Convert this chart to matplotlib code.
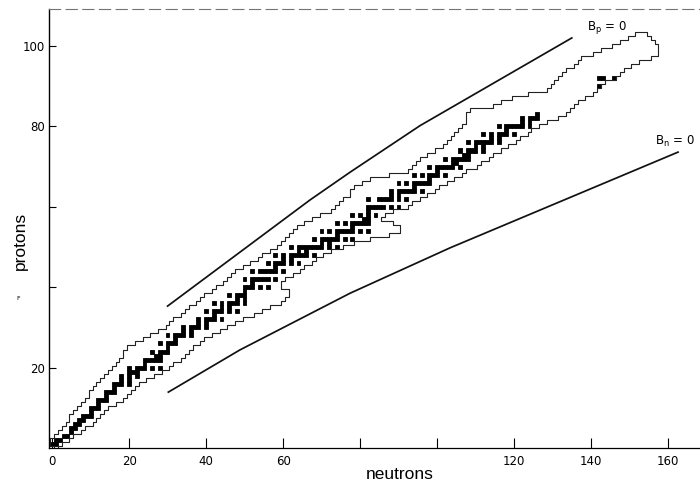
import matplotlib.pyplot as plt
from matplotlib.patches import Rectangle
from matplotlib.collections import PatchCollection

# stable (and very long-lived) mass numbers, one list per element Z = 1 .. 83
stable_A = [
    [1, 2], [3, 4], [6, 7], [9], [10, 11], [12, 13], [14, 15], [16, 17, 18], [19], [20, 21, 22],
    [23], [24, 25, 26], [27], [28, 29, 30], [31], [32, 33, 34, 36], [35, 37], [36, 38, 40], [39, 40, 41], [40, 42, 43, 44, 46, 48],
    [45], [46, 47, 48, 49, 50], [50, 51], [50, 52, 53, 54], [55], [54, 56, 57, 58], [59], [58, 60, 61, 62, 64], [63, 65], [64, 66, 67, 68, 70],
    [69, 71], [70, 72, 73, 74, 76], [75], [74, 76, 77, 78, 80, 82], [79, 81], [78, 80, 82, 83, 84, 86], [85, 87], [84, 86, 87, 88], [89], [90, 91, 92, 94, 96],
    [93], [92, 94, 95, 96, 97, 98, 100], [], [96, 98, 99, 100, 101, 102, 104], [103], [102, 104, 105, 106, 108, 110], [107, 109], [106, 108, 110, 111, 112, 113, 114, 116], [113, 115], [112, 114, 115, 116, 117, 118, 119, 120, 122, 124],
    [121, 123], [120, 122, 123, 124, 125, 126, 128, 130], [127], [124, 126, 128, 129, 130, 131, 132, 134, 136], [133], [130, 132, 134, 135, 136, 137, 138], [138, 139], [136, 138, 140, 142], [141], [142, 143, 144, 145, 146, 148, 150],
    [], [144, 147, 148, 149, 150, 152, 154], [151, 153], [152, 154, 155, 156, 157, 158, 160], [159], [156, 158, 160, 161, 162, 163, 164], [165], [162, 164, 166, 167, 168, 170], [169], [168, 170, 171, 172, 173, 174, 176],
    [175, 176], [174, 176, 177, 178, 179, 180], [180, 181], [180, 182, 183, 184, 186], [185, 187], [184, 186, 187, 188, 189, 190, 192], [191, 193], [190, 192, 194, 195, 196, 198], [197], [196, 198, 199, 200, 201, 202, 204],
    [203, 205], [204, 206, 207, 208], [209],
]

# thorium and uranium
heavy_Z = [90, 92, 92, 92]
heavy_A = [232, 234, 235, 238]

# edges of the region of known nuclides, one value per Z = 0 .. 103
z_rows = list(range(104))
n_low = [
    1,
    0, 0, 1, 2, 3, 4, 5, 5, 6, 7,
    8, 9, 10, 10, 11, 12, 13, 14, 15, 16,
    17, 18, 19, 19, 20, 22, 24, 26, 28, 30,
    31, 32, 34, 35, 36, 38, 39, 40, 42, 43,
    45, 46, 47, 48, 50, 52, 54, 55, 57, 59,
    60, 61, 62, 63, 64, 66, 68, 70, 73, 74,
    75, 76, 78, 78, 79, 81, 83, 88, 93, 94,
    95, 96, 98, 100, 102, 103, 104, 105, 106, 107,
    108, 108, 108, 109, 115, 117, 120, 124, 129, 130,
    131, 132, 133, 134, 136, 137, 138, 141, 143, 146,
    148, 150, 152,
]
n_high = [
    1,
    2, 4, 5, 7, 8, 10, 11, 12, 13, 14,
    16, 18, 19, 20, 21, 22, 24, 26, 28, 30,
    31, 33, 34, 35, 36, 38, 39, 41, 43, 45,
    47, 49, 52, 54, 56, 59, 60, 61, 61, 59,
    59, 60, 62, 64, 65, 67, 68, 70, 72, 75,
    78, 82, 87, 90, 90, 88, 85, 86, 88, 92,
    93, 95, 97, 99, 100, 102, 104, 106, 107, 110,
    111, 113, 114, 116, 118, 120, 121, 123, 124, 126,
    128, 131, 133, 134, 135, 136, 138, 140, 141, 142,
    143, 146, 147, 148, 150, 152, 155, 157, 157, 157,
    156, 155, 154,
]

# separation-energy limits
bp_N = [30, 67, 77.4, 95.6, 135]
bp_Z = [35.3, 61.7, 68.6, 80.2, 102]
bn_N = [30.2, 48.8, 77.4, 103.4, 162.6]
bn_Z = [13.9, 24.4, 38.5, 49.8, 73.6]

x_ticks = [0, 20, 40, 60, 80, 100, 120, 140, 160]
x_labels = ['0', '20', '40', '60', '', '', '120', '140', '160']
y_ticks = [20, 40, 60, 80, 100]
y_labels = ['20', '', '', '80', '100']

fig = plt.figure(figsize=(7, 4.86), dpi=100)
ax = fig.add_axes([49 / 700, 38 / 486, 651 / 700, 439 / 486])
ax.set_xlim(-0.8, 168.3)
ax.set_ylim(0, 109.2)

# filled squares for the stable nuclides
cells = []
for z, masses in enumerate(stable_A, start=1):
    for a in masses:
        cells.append((a - z, z))
for z, a in zip(heavy_Z, heavy_A):
    cells.append((a - z, z))
rects = [Rectangle((n - 0.5, z - 0.5), 1, 1) for n, z in cells]
ax.add_collection(PatchCollection(rects, facecolor='black', edgecolor='black', linewidth=0.6))

# staircase outline around the known nuclides
left_x, left_y, right_x, right_y = [], [], [], []
for z, lo, hi in zip(z_rows, n_low, n_high):
    left_x += [lo - 0.5, lo - 0.5]
    left_y += [z - 0.5, z + 0.5]
    right_x += [hi + 0.5, hi + 0.5]
    right_y += [z - 0.5, z + 0.5]
xs = left_x + right_x[::-1] + [left_x[0]]
ys = left_y + right_y[::-1] + [left_y[0]]
ax.plot(xs, ys, color='#222222', lw=0.8)

ax.plot(bp_N, bp_Z, color='#111111', lw=1.25)
ax.plot(bn_N, bn_Z, color='#111111', lw=1.25)
ax.text(139, 104, r'$\mathregular{B_p}$ = 0', fontsize=8.5)
ax.text(156.5, 75.5, r'$\mathregular{B_n}$ = 0', fontsize=8.5)

ax.set_xticks(x_ticks)
ax.set_xticklabels(x_labels)
ax.set_yticks(y_ticks)
ax.set_yticklabels(y_labels)
ax.tick_params(axis='x', direction='in', length=7, width=0.8, labelsize=8.5, pad=5)
ax.tick_params(axis='y', direction='in', length=5, width=0.8, labelsize=8.5, pad=3)

ax.spines['right'].set_visible(False)
ax.spines['left'].set_linewidth(1.0)
ax.spines['bottom'].set_linewidth(0.9)
ax.spines['top'].set_color('0.45')
ax.spines['top'].set_linewidth(0.8)
ax.spines['top'].set_linestyle((0, (10, 5)))

fig.text(400 / 700, 1 - 474 / 486, 'neutrons', ha='center', va='center',
         fontsize=12.5, family='Liberation Sans')
fig.text(20 / 700, 1 - 241 / 486, 'protons', ha='center', va='center', rotation=90,
         fontsize=12.5, family='Liberation Sans')
fig.text(18 / 700, 1 - 298 / 486, 'F', ha='center', va='center', fontsize=4.5)

fig.savefig('out.png', dpi=100)
